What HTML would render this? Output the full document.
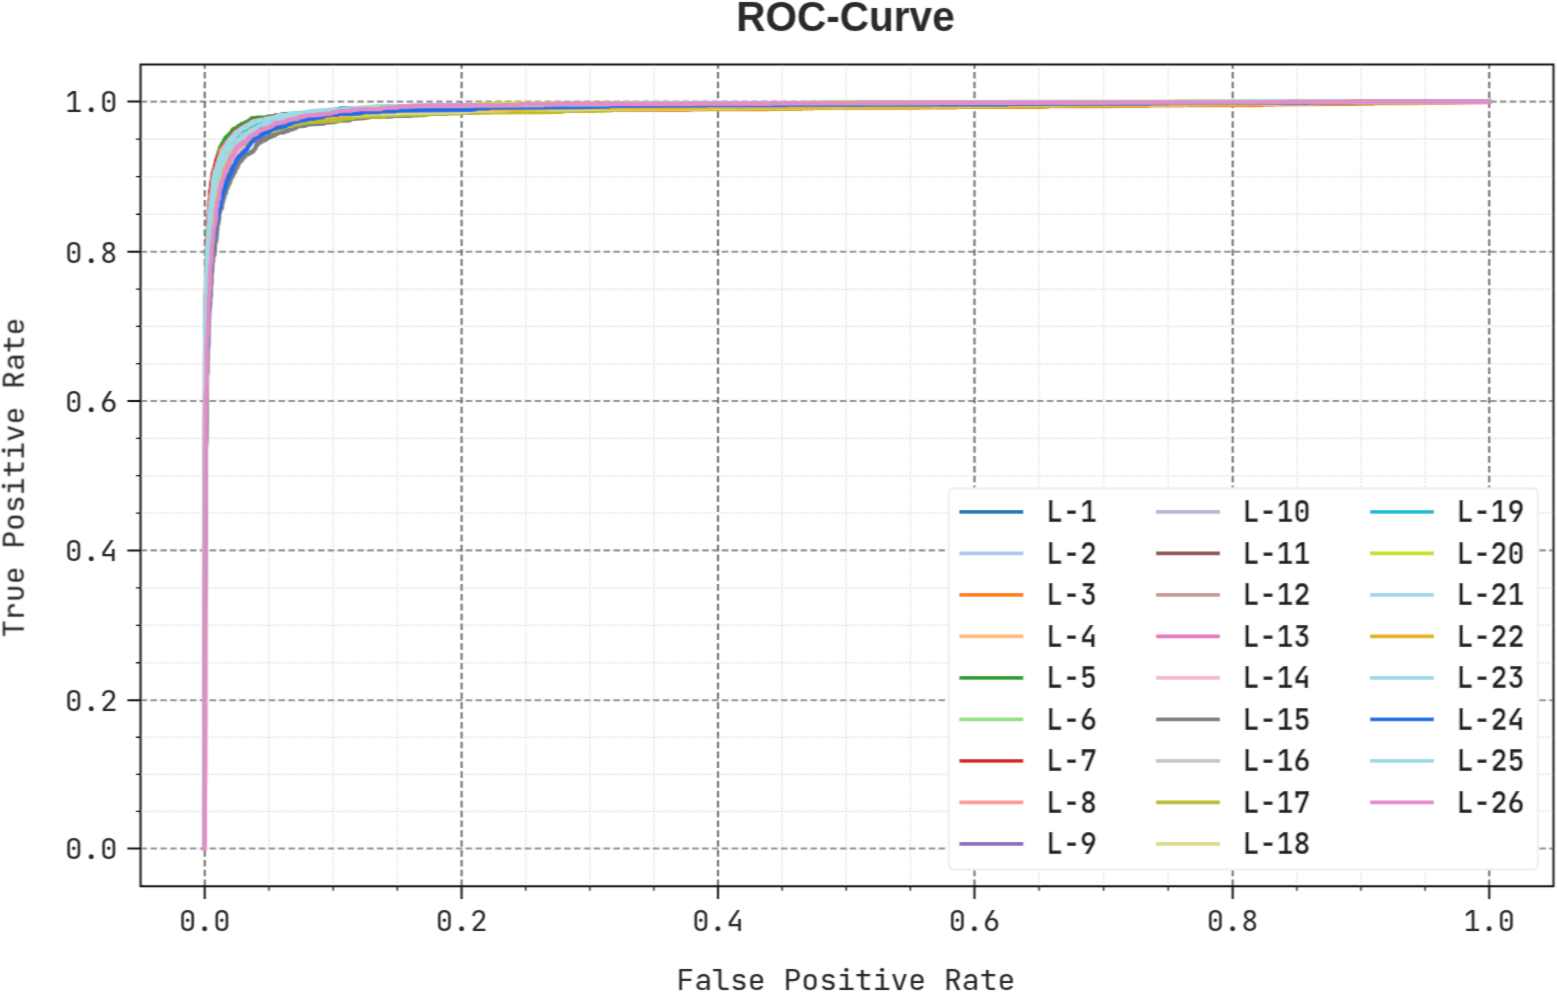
<!DOCTYPE html>
<html><head><meta charset="utf-8"><title>ROC-Curve</title>
<style>html,body{margin:0;padding:0;background:#fff;overflow:hidden}svg{display:block}</style>
</head><body>
<svg width="1557" height="992" viewBox="0 0 1557 992">
<defs><filter id="soft" x="0" y="0" width="1557" height="992" filterUnits="userSpaceOnUse"><feConvolveMatrix order="3" kernelMatrix="0.0250 0.0500 0.0250 0.2000 0.4000 0.2000 0.0250 0.0500 0.0250" divisor="1" edgeMode="none"/></filter><clipPath id="ax"><rect x="140.6" y="64.6" width="1412.9" height="821.6"/></clipPath></defs>
<rect width="1557" height="992" fill="#ffffff"/><g filter="url(#soft)">
<path d="M268.96 886.2V64.6M140.6 811.42H1553.5M333.18 886.2V64.6M140.6 774.35H1553.5M397.39 886.2V64.6M140.6 737.27H1553.5M525.70 886.2V64.6M140.6 662.75H1553.5M589.80 886.2V64.6M140.6 625.30H1553.5M653.90 886.2V64.6M140.6 587.85H1553.5M782.12 886.2V64.6M140.6 513.05H1553.5M846.25 886.2V64.6M140.6 475.70H1553.5M910.38 886.2V64.6M140.6 438.35H1553.5M1039.05 886.2V64.6M140.6 363.70H1553.5M1103.60 886.2V64.6M140.6 326.40H1553.5M1168.15 886.2V64.6M140.6 289.10H1553.5M1296.84 886.2V64.6M140.6 214.25H1553.5M1360.97 886.2V64.6M140.6 176.70H1553.5M1425.11 886.2V64.6M140.6 139.15H1553.5" stroke="#e4e4e4" stroke-width="1.6" stroke-dasharray="1.8 1.4" fill="none"/>
<path d="M140.6 848.50H1553.5M140.6 700.20H1553.5M140.6 550.40H1553.5M140.6 401.00H1553.5M140.6 251.80H1553.5M140.6 101.60H1553.5" stroke="#959595" stroke-width="2.1" stroke-dasharray="6.6 3.25" fill="none"/>
<path d="M204.75 886.2V64.6M461.60 886.2V64.6M718.00 886.2V64.6M974.50 886.2V64.6M1232.70 886.2V64.6M1489.25 886.2V64.6" stroke="#5a5a5a" stroke-width="1.8" stroke-dasharray="6.6 3.25" fill="none"/>
<g clip-path="url(#ax)" stroke-width="4.4" fill="none" stroke-linejoin="round" stroke-linecap="square"><path d="M204.8 848.5 205.1 415.7 205.7 397.0 206.7 311.5 207.3 307.0 208.3 263.7 209.2 254.7 209.2 242.4 209.9 240.9 210.5 222.2 211.2 221.5 211.8 210.6 212.5 210.3 212.5 205.4 213.7 199.1 214.1 193.5 215.0 191.6 215.0 189.7 215.7 189.4 215.7 186.7 216.6 185.3 216.6 183.4 217.6 182.3 218.2 178.5 219.5 176.7 219.8 174.8 220.5 174.8 221.1 171.4 221.8 171.1 222.4 165.8 223.1 165.8 223.7 162.8 225.0 162.8 225.6 162.1 225.6 160.6 226.6 159.1 227.5 158.7 228.2 155.8 229.5 155.4 230.8 152.4 232.0 151.6 233.0 147.5 233.3 146.8 234.0 146.8 234.0 145.3 238.8 143.8 239.4 141.9 243.0 141.2 244.9 138.2 246.8 137.8 246.8 137.1 247.8 136.0 248.4 136.0 248.4 135.2 249.4 135.2 250.3 133.3 252.3 133.3 252.3 132.6 253.6 132.6 254.5 131.5 256.5 131.5 256.5 130.7 258.1 130.4 258.1 129.6 259.7 129.6 261.6 128.5 264.2 128.5 264.5 127.7 270.9 127.0 271.9 125.5 282.8 124.4 283.7 124.0 284.1 123.3 286.6 123.3 287.0 122.5 294.0 122.1 294.0 121.4 299.8 120.6 300.1 119.9 302.4 119.9 302.4 119.5 310.7 119.5 312.3 118.8 322.0 118.8 323.9 117.7 330.0 117.3 330.0 116.9 332.2 116.9 334.2 116.2 364.7 115.8 364.7 115.0 383.9 115.0 383.9 114.7 386.2 114.7 386.2 114.3 394.2 114.3 394.5 113.6 420.5 112.8 421.5 112.1 426.0 112.1 426.0 111.7 438.2 111.7 438.2 111.3 441.4 111.3 441.4 110.9 449.4 110.9 449.4 110.6 465.5 110.2 465.5 109.8 480.0 109.8 480.0 109.4 546.1 109.4 546.1 109.1 575.0 109.1 575.0 108.7 582.7 108.7 582.7 108.3 632.5 108.3 632.5 107.9 641.8 107.9 641.8 107.6 683.5 107.6 683.5 107.2 865.9 106.5 865.9 106.1 874.0 106.1 874.0 105.7 969.3 105.7 969.3 105.3 981.6 105.3 981.6 105.0 1076.6 105.0 1076.6 104.6 1085.9 104.6 1085.9 104.2 1156.2 104.2 1156.2 103.8 1206.3 103.8 1206.3 103.5 1234.0 103.5 1234.0 103.1 1374.9 102.7 1374.9 102.3 1409.9 102.3 1409.9 102.0 1489.2 101.6" stroke="#1f77b4"/>
<path d="M204.8 848.5 204.8 480.7 205.4 449.7 205.7 356.3 207.6 270.0 208.3 267.8 208.3 257.3 209.2 247.2 209.2 237.2 210.2 227.1 210.9 210.6 211.2 207.7 211.8 207.3 211.8 200.6 212.5 199.1 212.5 193.5 213.1 190.9 213.4 184.1 214.1 184.1 214.7 180.4 215.3 180.4 216.3 171.4 217.0 171.1 217.6 167.0 218.6 167.0 219.2 162.5 219.8 162.5 219.8 161.0 220.8 161.0 221.1 158.4 221.8 158.4 221.8 156.9 223.4 153.1 223.4 150.5 224.0 150.1 224.3 148.7 226.3 147.5 226.6 145.3 227.2 145.3 227.5 143.8 228.5 143.4 228.5 142.3 229.2 142.3 229.5 140.4 230.1 140.4 230.4 139.3 231.1 139.3 231.1 138.2 232.7 138.2 233.0 136.3 234.3 136.3 235.6 135.6 235.6 134.1 236.5 133.7 236.9 132.6 239.1 131.8 239.4 131.1 240.7 131.1 241.0 130.4 242.6 130.4 246.5 128.9 246.8 128.1 249.4 127.0 250.0 125.9 251.0 125.5 254.5 125.1 254.5 124.4 255.8 124.4 255.8 124.0 258.4 124.0 258.7 123.3 260.0 123.3 260.3 121.4 263.2 121.4 265.4 119.5 267.4 119.5 269.6 118.0 271.9 118.0 272.2 116.5 274.4 116.2 275.1 115.4 305.9 115.4 305.9 115.0 311.0 115.0 312.3 114.3 318.4 113.9 318.4 113.6 320.4 113.6 321.0 112.8 327.7 112.8 328.1 112.1 330.0 112.1 330.0 111.7 378.5 111.3 378.5 110.9 385.5 110.9 385.5 110.6 407.1 110.6 407.1 110.2 446.9 110.2 447.2 109.4 462.6 109.4 462.6 109.1 536.8 109.1 536.8 108.7 616.4 108.3 616.4 107.9 680.7 107.9 680.7 107.6 703.5 107.6 703.5 107.2 737.5 107.2 737.5 106.8 756.4 106.8 756.4 106.5 803.6 106.5 803.6 106.1 838.3 106.1 838.3 105.7 1029.1 105.0 1029.1 104.6 1044.8 104.6 1044.8 104.2 1140.2 104.2 1140.2 103.8 1191.9 103.8 1191.9 103.5 1257.7 103.5 1257.7 103.1 1273.5 103.1 1273.5 102.7 1372.0 102.7 1372.0 102.3 1409.0 102.3 1409.0 102.0 1489.2 101.6" stroke="#aec7e8"/>
<path d="M204.8 848.5 204.8 543.4 205.7 344.0 206.4 341.4 206.4 306.3 207.0 297.3 207.0 285.7 208.3 253.2 209.2 246.1 209.2 235.3 209.9 233.4 210.2 221.5 211.2 217.4 212.5 203.2 213.4 200.9 213.4 197.2 215.0 189.7 217.0 184.5 217.3 181.5 217.9 181.1 217.9 177.4 218.6 177.4 218.6 176.3 219.5 175.5 219.8 173.3 221.4 170.7 221.8 167.7 223.1 164.0 224.0 163.6 224.0 162.5 225.0 162.1 225.3 158.7 225.9 158.4 226.3 156.5 226.9 156.1 227.2 154.6 228.5 153.9 228.5 153.1 229.2 153.1 229.5 150.9 230.4 150.1 230.4 149.4 231.4 149.0 232.0 146.0 233.0 145.3 233.0 144.5 234.0 144.2 234.0 143.4 234.9 143.4 235.3 142.3 238.1 141.6 239.1 139.7 240.1 139.7 240.4 138.6 241.7 138.6 241.7 137.5 242.6 137.5 243.3 136.3 244.6 136.3 244.9 135.6 246.8 135.6 246.8 134.8 249.1 133.7 249.1 133.0 250.7 133.0 252.6 131.5 255.5 130.4 257.1 130.4 258.1 128.9 260.0 128.9 260.0 128.1 260.9 127.7 260.9 126.6 262.2 126.6 262.2 125.5 266.1 125.5 268.3 124.4 278.0 124.0 280.5 122.9 282.8 122.9 285.0 121.4 288.9 121.4 291.1 120.3 293.7 120.3 294.3 119.5 300.1 119.5 300.1 119.2 303.3 119.2 303.3 118.8 311.4 118.8 311.4 118.4 327.7 118.0 327.7 117.7 335.4 117.3 336.1 116.5 340.6 116.5 340.6 116.2 350.2 116.2 350.5 115.4 362.7 115.4 362.7 115.0 365.0 115.0 365.6 114.3 381.4 114.3 381.4 113.9 388.1 113.9 388.1 113.6 412.8 113.6 412.8 113.2 417.3 113.2 417.3 112.8 438.2 112.8 438.2 112.4 480.0 112.4 480.6 111.7 532.9 111.7 532.9 111.3 548.0 111.3 548.7 110.6 595.9 110.6 596.5 109.8 689.3 109.8 689.3 109.4 692.2 109.4 692.2 109.1 768.6 109.1 768.6 108.7 801.4 108.7 801.4 108.3 813.3 108.3 813.3 107.9 918.9 107.6 918.9 107.2 956.2 107.2 956.2 106.8 1041.6 106.8 1041.6 106.5 1048.0 106.5 1048.0 106.1 1112.6 106.1 1112.6 105.7 1149.5 105.7 1149.5 105.3 1183.9 105.3 1183.9 105.0 1262.5 105.0 1262.5 104.6 1274.4 104.6 1274.4 104.2 1358.2 103.8 1358.2 103.5 1373.3 103.5 1373.3 103.1 1418.3 103.1 1418.3 102.7 1488.9 102.0 1489.2 101.6" stroke="#ff7f0e"/>
<path d="M204.8 848.5 205.1 402.2 205.4 362.3 206.4 333.1 206.4 304.4 207.0 299.5 207.0 283.1 208.3 267.0 208.6 254.0 209.6 249.9 209.9 238.7 211.2 224.5 212.5 219.2 213.4 209.2 215.0 201.7 215.7 192.3 217.0 189.0 217.3 183.4 218.9 181.1 219.2 178.5 219.8 178.5 220.5 172.6 221.4 172.6 222.4 169.2 224.0 167.0 224.0 165.5 224.7 165.5 225.3 160.2 226.9 159.5 227.9 155.8 228.8 155.8 229.2 155.0 229.5 152.0 231.4 151.3 232.0 147.5 233.3 147.2 234.0 144.5 234.6 144.5 234.6 143.4 235.6 143.1 235.6 141.9 236.2 141.9 236.2 141.2 237.8 141.2 237.8 140.4 239.8 139.7 240.1 138.6 241.7 138.2 242.6 136.0 243.3 136.0 243.9 134.8 244.9 134.8 244.9 133.3 246.8 133.0 246.8 131.8 248.1 131.5 248.7 129.6 251.0 128.5 251.6 127.4 255.5 127.4 256.1 127.0 256.1 126.2 257.4 126.2 257.4 125.1 261.3 124.8 261.9 124.4 261.9 123.6 268.0 123.3 269.0 122.1 270.3 122.1 272.8 120.6 275.1 120.6 275.7 119.9 278.6 119.9 280.2 119.2 287.6 119.2 288.2 118.4 289.8 118.4 290.8 117.7 308.8 117.3 310.1 116.5 325.5 116.2 325.5 115.8 349.9 115.4 350.9 114.7 373.7 114.3 374.6 113.6 403.8 112.8 404.8 112.1 407.7 112.1 407.7 111.7 423.8 111.7 423.8 111.3 426.3 111.3 426.3 110.9 442.4 110.9 442.4 110.6 456.2 110.6 456.2 110.2 487.0 110.2 487.0 109.8 498.3 109.8 498.3 109.4 551.2 109.1 551.2 108.7 553.5 108.7 553.5 108.3 700.6 107.6 700.6 107.2 723.0 107.2 723.0 106.8 860.2 106.5 860.2 106.1 893.9 106.1 893.9 105.7 982.8 105.3 982.8 105.0 1117.7 104.6 1117.7 104.2 1150.5 104.2 1150.5 103.8 1208.3 103.8 1208.3 103.5 1287.3 103.1 1287.3 102.7 1489.2 101.6" stroke="#ffbb78"/>
<path d="M204.8 848.5 205.1 376.8 205.7 298.8 206.4 289.4 207.3 234.2 208.3 225.6 208.6 215.5 209.2 213.6 209.2 208.4 209.9 208.0 210.2 206.2 210.2 200.6 211.2 196.5 212.5 179.7 214.1 172.9 214.1 170.7 214.7 170.7 214.7 169.9 215.3 169.6 216.0 162.8 217.0 158.0 217.6 157.2 217.6 155.4 218.6 154.3 218.9 151.6 219.5 151.3 219.8 149.0 220.5 148.3 220.5 146.8 221.8 145.3 222.1 143.8 223.1 143.8 224.0 140.4 225.6 139.3 225.6 137.8 226.3 137.8 226.3 137.1 227.2 137.1 227.5 136.0 229.2 135.6 229.5 134.1 231.4 132.6 232.0 130.7 233.3 130.4 233.3 129.2 237.2 127.7 237.8 126.6 238.8 126.6 238.8 125.9 240.7 125.5 241.7 124.0 245.2 123.6 245.2 122.5 247.1 122.5 247.5 121.8 248.7 121.8 248.7 120.6 250.3 120.6 251.0 119.9 251.0 118.8 251.6 118.4 257.1 118.0 257.1 117.7 265.1 117.7 267.0 116.9 271.9 116.5 271.9 116.2 275.7 116.2 276.0 115.4 280.5 115.0 282.1 114.3 311.4 113.6 311.4 113.2 314.6 113.2 315.5 112.1 317.1 112.1 318.1 111.3 336.4 110.6 336.4 110.2 337.7 110.2 337.7 109.4 338.7 109.1 343.2 109.1 343.2 108.7 373.0 108.3 373.0 107.9 457.8 107.6 457.8 107.2 481.2 107.2 481.2 106.8 490.2 106.8 490.2 106.5 587.9 106.1 587.9 105.7 618.4 105.7 618.4 105.3 742.0 105.3 742.0 105.0 803.6 105.0 803.6 104.6 884.3 104.6 884.3 104.2 1006.6 104.2 1006.6 103.8 1044.8 103.8 1044.8 103.5 1163.6 103.5 1163.6 103.1 1217.9 103.1 1217.9 102.7 1489.2 101.6" stroke="#2ca02c"/>
<path d="M204.8 848.5 204.8 519.5 205.4 347.0 206.0 339.1 207.0 272.6 209.2 233.8 209.6 230.8 210.2 229.7 210.5 217.4 211.2 216.2 212.5 202.1 213.4 198.7 213.4 196.1 214.1 195.3 214.1 193.1 215.0 191.6 215.7 184.1 216.0 182.6 216.6 182.3 217.3 177.0 217.6 176.3 218.2 176.3 218.6 173.7 219.5 173.3 219.5 171.8 220.2 171.4 220.5 169.9 221.4 169.6 221.8 167.0 222.7 166.6 223.4 165.1 223.4 163.2 224.0 162.8 224.3 160.2 225.3 159.1 225.9 159.1 226.3 157.6 227.5 156.5 227.5 155.4 227.9 154.6 228.5 154.6 229.5 151.3 231.4 150.5 231.4 149.4 232.4 149.0 232.4 148.3 234.3 147.5 234.9 146.0 235.9 146.0 236.2 144.9 237.2 144.9 237.8 143.4 239.8 143.1 240.1 141.6 241.7 141.6 242.0 140.4 243.6 139.7 245.5 139.7 245.9 138.9 246.8 138.6 247.1 137.1 248.1 137.1 248.1 136.3 250.3 135.2 250.7 134.5 251.6 134.5 251.6 133.7 252.3 133.3 254.2 133.0 254.5 131.8 256.1 131.5 256.8 130.4 258.4 130.0 258.4 128.9 264.8 128.5 264.8 127.7 265.4 127.4 268.7 127.0 269.3 125.5 271.2 125.1 271.2 124.0 275.7 123.3 277.6 121.8 282.8 121.8 282.8 121.0 283.7 120.6 293.4 120.3 294.7 119.2 299.2 119.2 299.2 118.8 303.3 118.4 303.3 118.0 311.7 118.0 314.3 116.9 316.5 116.9 317.1 115.8 338.7 115.4 338.7 115.0 341.9 115.0 342.5 114.3 343.8 114.3 344.8 113.6 351.8 113.6 351.8 113.2 356.3 113.2 357.0 112.4 364.7 112.1 365.3 111.3 367.2 111.3 367.2 110.6 382.0 110.2 382.0 109.8 445.3 109.4 445.3 109.1 474.5 108.3 474.5 107.9 507.2 107.9 507.2 107.6 530.4 107.6 530.4 107.2 608.7 107.2 608.7 106.8 716.9 106.5 716.9 106.1 742.6 106.1 742.6 105.7 909.0 105.3 909.0 105.0 973.5 105.0 973.5 104.6 1003.1 104.6 1003.1 104.2 1055.4 104.2 1055.4 103.8 1106.1 103.8 1106.1 103.5 1218.2 103.5 1218.2 103.1 1285.7 103.1 1285.7 102.7 1300.4 102.7 1300.4 102.3 1489.2 101.6" stroke="#98df8a"/>
<path d="M204.8 848.5 205.1 354.8 206.4 265.9 207.0 263.7 207.3 236.8 208.0 235.7 209.2 204.7 210.2 197.2 210.2 190.9 210.9 189.7 211.5 181.5 212.1 181.1 212.8 173.3 213.4 172.9 213.7 169.9 214.4 169.6 214.4 168.4 215.0 167.7 215.0 165.8 215.7 165.8 216.3 160.6 216.6 159.9 217.3 159.9 217.3 158.7 218.6 155.4 219.2 155.0 219.5 153.1 220.5 151.6 221.4 151.6 222.7 147.2 223.7 146.8 223.7 146.0 225.0 145.7 225.6 144.2 226.3 144.2 226.3 143.1 226.9 143.1 226.9 142.3 227.9 141.9 228.2 140.1 229.2 140.1 230.4 138.9 230.8 136.7 232.0 136.0 234.0 131.8 236.2 131.5 236.5 130.7 237.2 130.7 237.2 129.6 240.1 128.9 240.1 128.1 241.0 127.4 242.6 127.4 243.3 125.9 246.8 125.1 246.8 124.4 247.5 123.6 248.4 123.6 248.7 122.5 250.3 122.5 250.7 121.8 252.0 121.8 254.5 119.9 265.1 119.2 265.1 118.8 267.4 118.8 267.4 118.4 269.6 118.4 270.3 118.0 270.3 117.3 274.8 117.3 274.8 116.5 276.0 116.5 276.0 115.4 283.4 115.4 283.4 115.0 286.3 115.0 287.0 114.3 302.1 113.6 302.1 113.2 307.2 112.8 308.5 112.1 310.7 112.1 310.7 111.7 344.1 110.9 345.1 110.2 374.9 110.2 374.9 109.8 383.6 109.4 383.6 109.1 389.4 109.1 389.4 108.7 398.4 108.7 400.3 107.9 403.8 107.9 404.5 107.2 477.4 107.2 477.4 106.8 482.8 106.8 482.8 106.5 574.0 106.5 574.0 106.1 632.8 106.1 632.8 105.7 806.9 105.3 806.9 105.0 824.5 105.0 824.5 104.6 942.1 104.6 942.1 104.2 964.9 104.2 964.9 103.8 1088.5 103.8 1088.5 103.5 1196.4 103.1 1196.4 102.7 1337.4 102.7 1337.4 102.3 1408.3 102.3 1408.3 102.0 1426.0 102.0 1426.0 101.6 1489.2 101.6" stroke="#d62728"/>
<path d="M204.8 848.5 205.1 352.6 206.4 271.9 207.0 265.2 207.0 252.1 207.6 247.2 208.0 231.9 208.6 231.2 209.6 209.9 210.5 202.4 211.2 202.4 211.5 193.5 212.5 192.0 213.7 180.0 214.4 177.4 215.0 177.0 215.3 172.6 215.7 171.8 216.3 171.8 216.3 169.9 217.3 167.3 217.3 164.3 218.2 163.2 218.6 159.9 218.9 159.1 219.5 159.1 220.2 154.3 220.8 154.3 221.1 150.5 222.1 150.1 222.1 149.4 223.1 148.7 223.1 147.5 224.0 147.5 225.0 145.7 225.6 145.7 226.3 143.4 228.2 141.2 228.8 141.2 229.5 140.1 230.1 140.1 231.1 138.6 232.0 138.2 232.4 137.1 233.3 136.7 234.3 134.5 238.5 133.7 238.8 132.6 240.4 132.2 240.4 131.5 242.3 131.1 242.3 129.2 243.9 128.9 244.2 128.1 244.9 128.1 244.9 127.4 249.4 127.0 249.4 126.2 251.0 125.5 256.1 125.1 256.5 124.0 258.1 124.0 258.1 123.3 265.8 123.3 265.8 122.5 266.7 121.8 270.3 121.8 270.3 121.4 273.1 121.0 273.8 119.9 274.8 119.5 274.8 118.8 277.0 118.8 278.6 118.0 283.7 118.0 284.7 117.7 285.0 116.9 287.9 116.5 288.2 115.8 297.9 115.8 297.9 115.4 300.1 115.4 300.8 114.7 304.0 114.7 304.6 113.9 312.0 113.6 312.3 112.8 316.2 112.4 316.2 112.1 339.3 111.7 339.3 111.3 345.4 111.3 345.4 110.9 346.7 110.9 347.0 110.2 383.6 109.8 383.6 109.4 385.9 109.4 385.9 109.1 391.6 109.1 391.6 108.7 489.9 108.3 489.9 107.9 498.9 107.9 498.9 107.6 542.9 107.6 542.9 107.2 548.0 107.2 548.0 106.8 588.8 106.8 588.8 106.5 794.0 106.1 794.0 105.7 799.2 105.7 799.2 105.3 802.7 105.3 802.7 105.0 957.1 104.6 957.1 104.2 982.5 104.2 982.5 103.8 1177.1 103.5 1177.1 103.1 1187.7 103.1 1187.7 102.7 1300.7 102.7 1300.7 102.3 1396.8 102.3 1396.8 102.0 1489.2 101.6" stroke="#ff9896"/>
<path d="M204.8 848.5 204.8 571.8 205.4 414.2 206.7 360.0 206.7 338.4 208.6 278.2 209.6 264.4 210.2 261.8 210.5 250.2 211.2 248.7 211.5 243.1 212.1 242.4 212.1 237.2 212.8 236.8 213.1 234.9 213.1 230.4 214.4 225.6 214.4 222.2 215.0 221.5 215.3 214.8 216.0 213.6 216.0 211.0 217.6 206.5 217.6 203.6 218.2 202.8 218.2 201.7 218.9 201.3 218.9 199.4 219.5 199.4 219.8 198.7 220.2 195.7 220.8 195.0 222.7 184.1 224.0 182.3 224.3 179.3 225.0 179.3 225.3 178.5 226.3 172.6 226.6 171.8 227.5 171.8 227.9 169.6 228.5 169.6 228.5 168.8 229.8 168.1 230.8 164.0 231.4 164.0 231.4 162.5 232.0 162.5 232.4 160.6 233.3 159.9 234.6 159.9 234.6 159.1 235.3 159.1 236.5 157.6 236.9 156.1 237.5 155.8 237.5 153.9 239.1 152.0 239.1 151.3 240.1 150.9 240.1 150.1 240.7 150.1 240.7 149.4 241.4 149.4 241.7 148.3 243.0 148.3 243.3 146.8 246.2 144.9 246.5 143.8 248.4 143.8 248.4 143.1 250.0 142.7 251.6 141.2 256.5 140.8 256.5 140.1 259.7 139.7 259.7 138.9 262.9 138.6 263.5 137.1 269.0 136.7 269.6 135.2 270.3 135.2 270.9 133.7 271.5 133.7 271.9 132.2 274.8 131.8 276.0 130.7 277.0 130.7 277.3 130.0 280.5 130.0 280.9 129.2 281.8 128.9 284.4 128.5 284.4 127.7 287.9 127.4 288.6 126.2 290.5 125.1 292.7 124.8 293.1 124.0 295.0 124.0 295.0 123.3 308.8 122.9 309.4 122.1 311.0 122.1 311.0 121.8 318.1 121.4 318.1 121.0 321.3 121.0 321.3 120.6 330.6 120.6 331.9 119.9 333.5 119.9 333.5 119.2 335.4 119.2 336.1 118.4 348.0 118.0 348.0 117.3 369.8 116.9 371.4 116.2 381.0 116.2 381.0 115.8 383.6 115.8 383.6 115.4 393.6 115.4 393.6 115.0 397.1 115.0 397.1 114.7 407.1 114.7 407.1 114.3 411.6 114.3 411.6 113.9 417.0 113.9 417.0 113.6 425.7 113.6 425.7 113.2 427.9 113.2 427.9 112.8 437.6 112.8 438.5 112.1 471.0 111.7 471.0 111.3 475.5 110.9 475.5 110.6 483.2 110.6 483.2 110.2 556.4 109.8 556.4 109.4 615.5 108.7 615.5 108.3 694.5 107.9 694.5 107.6 708.3 107.6 708.3 107.2 713.4 106.8 713.4 106.5 825.2 106.1 825.2 105.7 840.6 105.7 840.6 105.3 875.6 105.3 875.6 105.0 939.8 105.0 939.8 104.6 968.4 104.6 968.4 104.2 1016.6 104.2 1016.6 103.8 1096.8 103.8 1096.8 103.5 1183.5 103.1 1183.5 102.7 1276.7 102.7 1276.7 102.3 1315.5 102.3 1315.5 102.0 1489.2 101.6" stroke="#9467bd"/>
<path d="M204.8 848.5 205.1 413.1 205.7 391.4 205.7 341.4 206.7 327.2 206.7 301.0 207.6 282.0 207.6 267.4 208.6 258.4 208.9 243.9 209.6 242.8 210.2 230.1 212.1 218.9 212.8 206.5 213.4 206.5 214.1 199.4 217.6 186.7 217.6 184.1 218.6 181.5 218.6 178.2 219.5 176.7 219.5 174.8 220.2 174.8 220.2 173.3 221.1 171.4 221.4 168.1 222.7 166.6 223.7 162.8 224.3 162.8 224.3 160.6 226.3 158.0 226.3 156.9 227.2 155.8 227.9 155.8 227.9 153.1 228.8 152.8 229.2 151.6 230.4 151.3 231.1 147.9 232.0 147.5 232.0 146.0 233.3 144.9 233.3 144.2 234.0 144.2 234.0 143.1 234.9 143.1 236.5 141.2 237.8 141.2 238.5 138.9 239.4 138.9 239.4 137.8 240.7 137.5 241.0 134.8 244.6 134.8 246.2 133.7 246.5 132.6 247.8 132.6 248.1 131.8 249.1 131.8 249.7 131.5 249.7 130.7 251.3 130.7 252.0 130.4 252.0 129.6 256.5 129.6 256.8 128.5 260.3 128.1 261.9 127.4 261.9 126.6 267.4 125.5 268.3 124.4 269.6 124.4 269.6 124.0 272.8 124.0 274.1 123.3 278.3 123.3 278.3 122.9 281.5 122.5 281.5 122.1 287.3 122.1 287.3 121.8 289.5 121.8 289.5 121.0 292.4 120.6 292.4 120.3 300.8 119.9 301.1 119.2 325.8 118.8 326.1 118.0 327.4 118.0 328.1 117.3 332.2 117.3 332.6 116.5 335.4 116.2 335.4 115.8 342.2 115.4 342.8 114.7 346.4 114.7 346.4 114.3 353.1 114.3 353.1 113.9 355.7 113.9 356.6 113.2 391.0 113.2 391.0 112.8 395.2 112.8 395.2 112.4 416.1 112.4 416.1 112.1 429.2 111.7 429.2 111.3 441.7 111.3 441.7 110.9 445.9 110.9 447.2 110.2 453.6 110.2 453.6 109.8 496.0 109.8 496.0 109.4 523.3 109.1 523.3 108.7 532.3 108.7 532.3 108.3 550.3 108.3 550.3 107.9 684.5 107.6 684.5 107.2 698.0 107.2 698.0 106.8 838.3 106.5 838.3 106.1 856.0 106.1 856.0 105.7 939.2 105.7 939.2 105.3 987.3 105.3 987.3 105.0 1198.0 103.8 1198.0 103.5 1225.0 103.5 1225.0 103.1 1301.1 103.1 1301.1 102.7 1338.6 102.7 1338.6 102.3 1411.2 102.3 1411.2 102.0 1489.2 101.6" stroke="#c5b0d5"/>
<path d="M204.8 848.5 204.8 619.9 205.4 456.8 206.0 444.1 207.0 362.6 207.6 358.5 207.6 336.1 208.6 323.4 209.2 294.7 209.9 291.7 209.9 285.0 212.5 250.6 213.4 247.2 213.4 243.5 214.1 242.0 214.4 236.4 215.3 232.7 215.3 229.3 216.0 227.8 216.3 222.2 217.0 220.4 217.0 216.6 217.6 215.9 218.2 207.3 219.2 205.0 219.5 200.6 220.5 199.1 221.4 193.5 222.1 193.5 222.1 192.0 222.7 191.2 223.1 187.1 223.7 186.7 224.0 184.5 224.7 184.5 224.7 182.3 225.3 181.9 225.3 179.7 225.9 178.9 225.9 176.7 226.9 175.5 226.9 174.4 227.5 174.4 228.2 171.1 228.8 170.7 229.2 169.2 229.8 169.2 229.8 167.7 231.1 167.3 231.1 165.5 232.0 165.5 232.7 163.2 233.3 162.8 233.3 161.7 234.0 161.7 234.6 159.9 235.9 158.7 236.5 156.5 237.5 156.1 237.5 154.6 238.8 151.6 240.7 150.5 240.7 149.4 241.7 149.4 242.6 146.0 243.6 146.0 245.2 142.3 247.1 141.6 247.1 140.4 248.4 140.1 249.1 138.6 249.7 138.6 249.7 137.8 252.0 137.5 252.0 136.7 254.2 136.3 255.2 135.6 256.8 135.6 256.8 134.5 257.7 134.5 258.1 133.7 259.0 133.3 261.6 133.0 261.9 131.8 265.4 131.1 265.4 130.4 271.9 130.0 273.5 128.1 274.4 128.1 274.8 127.0 277.6 126.6 278.0 125.9 281.8 125.5 281.8 124.4 284.1 124.4 286.0 123.3 288.9 123.3 288.9 122.5 289.8 122.5 292.1 121.0 296.9 120.3 297.9 119.5 299.5 119.5 300.1 118.8 303.3 118.8 303.3 118.4 306.2 118.4 306.2 118.0 314.3 118.0 315.2 117.3 320.4 117.3 322.9 115.8 323.2 115.0 325.2 115.0 326.1 114.3 331.9 114.3 331.9 113.9 334.8 113.9 335.1 113.2 344.8 112.8 347.7 111.7 349.9 111.7 350.9 110.9 361.8 109.8 362.7 109.4 363.1 108.7 365.6 108.7 365.6 108.3 389.4 108.3 389.4 107.9 396.8 107.9 396.8 107.6 404.8 107.6 404.8 107.2 425.0 106.8 426.3 106.1 436.3 106.1 436.3 105.7 592.7 105.7 592.7 105.3 706.7 105.0 706.7 104.6 715.7 104.6 715.7 104.2 764.8 104.2 764.8 103.8 1035.8 103.5 1035.8 103.1 1073.4 103.1 1073.4 102.7 1216.6 102.7 1216.6 102.3 1489.2 101.6" stroke="#8c564b"/>
<path d="M204.8 848.5 204.8 588.6 205.4 419.0 206.0 397.7 206.7 322.3 207.3 318.9 207.3 297.7 208.6 277.9 208.6 267.4 209.2 266.3 209.6 261.4 209.6 252.1 210.5 245.4 210.9 236.4 211.5 236.0 211.8 233.1 211.8 227.5 212.5 226.3 212.8 218.9 213.4 217.4 213.4 214.8 214.4 212.9 215.3 202.1 215.7 200.6 216.3 200.6 217.0 195.3 217.6 195.0 219.2 190.9 219.5 187.1 220.5 187.1 220.8 183.0 221.4 183.0 223.1 175.9 223.7 175.5 223.7 173.7 224.3 172.2 225.0 172.2 225.6 168.8 227.5 166.6 227.9 164.0 228.5 164.0 228.5 162.5 229.2 162.5 229.8 160.6 230.8 160.2 230.8 159.5 231.4 159.5 231.4 158.7 232.7 158.4 233.3 156.5 234.3 156.5 234.3 155.4 235.6 155.4 235.6 154.6 236.2 154.6 236.2 153.1 237.8 152.8 238.5 151.3 239.4 151.3 239.8 150.1 240.4 150.1 240.4 149.0 241.0 149.0 241.4 147.5 243.0 147.2 243.6 146.0 245.5 145.3 245.5 144.5 247.1 143.8 247.1 143.1 248.4 143.1 249.4 141.6 250.3 141.2 250.3 139.7 252.0 139.7 252.3 138.9 253.6 138.9 253.9 137.8 256.5 136.7 257.4 134.8 260.3 133.7 262.9 133.7 263.8 132.6 265.1 132.6 265.1 131.8 266.1 131.8 266.7 130.7 267.4 130.7 267.7 129.6 271.5 128.1 271.5 127.0 274.4 126.6 274.4 126.2 279.3 126.2 280.9 125.5 281.2 124.4 282.8 124.0 283.1 123.3 291.1 122.9 291.5 121.8 299.5 121.4 299.5 120.6 300.4 120.3 303.0 120.3 303.3 119.5 306.2 119.5 306.2 119.2 310.7 119.2 310.7 118.8 313.3 118.8 313.3 118.4 320.0 118.4 320.7 117.7 336.7 117.3 338.3 116.5 351.8 116.5 351.8 115.8 358.9 115.8 358.9 115.4 362.7 115.4 364.3 114.7 434.4 113.2 434.4 112.8 437.6 112.8 439.2 112.1 462.6 112.1 462.6 111.7 469.0 111.7 469.0 111.3 521.7 110.6 521.7 110.2 528.8 110.2 528.8 109.8 600.4 109.4 600.4 109.1 610.0 109.1 610.0 108.7 643.4 108.7 643.4 108.3 664.6 108.3 664.6 107.9 732.7 107.9 732.7 107.6 781.8 107.6 781.8 107.2 810.1 107.2 810.1 106.8 935.0 106.5 935.0 106.1 979.0 106.1 979.0 105.7 986.0 105.7 986.0 105.3 1252.3 103.8 1252.3 103.5 1317.4 103.1 1317.4 102.7 1383.3 102.7 1383.3 102.3 1410.6 102.3 1410.6 102.0 1489.2 101.6" stroke="#c49c94"/>
<path d="M204.8 848.5 204.8 470.9 205.4 447.8 205.4 364.9 206.0 362.3 206.0 333.1 207.3 282.3 208.0 263.3 208.3 258.8 208.9 258.8 209.2 245.0 209.6 240.9 210.2 240.1 210.5 237.5 210.5 231.6 212.1 217.7 212.1 212.5 213.1 209.9 214.1 198.7 214.7 198.7 215.0 194.6 215.7 193.8 216.3 190.9 216.6 186.0 217.9 182.6 218.2 177.4 219.2 177.0 220.2 172.6 220.8 172.2 220.8 171.1 221.4 170.3 222.7 162.5 223.4 162.5 223.7 161.4 223.7 159.1 225.0 158.7 225.3 156.5 225.9 156.5 225.9 155.8 226.6 155.4 227.9 151.3 228.5 151.3 228.5 150.5 229.2 150.5 229.5 149.8 229.5 148.3 232.7 147.2 234.0 143.8 235.3 143.1 235.3 141.6 236.9 141.2 237.2 140.4 241.4 139.3 241.7 138.6 242.3 138.6 242.6 137.1 243.9 137.1 244.6 136.3 244.6 134.5 245.5 134.5 245.5 133.7 248.1 133.3 248.4 132.2 251.6 131.5 252.3 130.0 253.6 129.6 254.8 128.1 255.8 128.1 256.8 127.0 262.2 126.6 263.2 125.5 264.2 125.5 264.2 124.8 270.3 124.8 271.2 124.4 271.5 123.6 282.8 122.5 283.1 121.8 286.0 121.4 286.3 120.6 290.8 120.6 293.4 119.5 298.5 119.5 298.8 118.8 309.8 117.7 309.8 117.3 312.0 117.3 312.6 116.5 314.6 116.5 314.6 116.2 322.6 116.2 322.9 115.4 327.1 115.4 327.1 115.0 329.7 115.0 329.7 114.7 342.8 114.7 342.8 114.3 359.5 113.9 360.5 113.2 391.0 112.8 391.0 112.4 397.4 112.4 397.4 112.1 507.6 110.6 507.6 110.2 523.0 110.2 523.0 109.8 573.1 109.8 573.1 109.4 585.6 109.4 585.6 109.1 628.0 109.1 628.0 108.7 647.9 108.7 647.9 108.3 675.8 108.3 675.8 107.9 687.1 107.9 687.1 107.6 724.3 107.6 724.3 107.2 738.1 107.2 738.1 106.8 843.8 106.5 843.8 106.1 872.7 106.1 872.7 105.7 910.9 105.7 910.9 105.3 1022.7 105.0 1022.7 104.6 1058.0 104.6 1058.0 104.2 1114.2 104.2 1114.2 103.8 1164.3 103.8 1164.3 103.5 1217.3 103.5 1217.3 103.1 1359.2 102.7 1359.2 102.3 1385.2 102.3 1385.2 102.0 1489.2 101.6" stroke="#e377c2"/>
<path d="M204.8 848.5 204.8 519.9 205.4 477.7 205.7 378.0 206.4 332.8 207.3 320.4 208.3 279.7 208.9 278.2 208.9 270.0 209.9 262.9 209.9 253.2 210.5 251.4 210.5 247.6 211.2 244.6 211.8 232.3 212.8 229.3 212.8 224.1 214.1 219.2 215.3 208.0 216.3 205.4 217.3 199.1 218.2 196.8 218.6 192.3 220.5 187.5 221.8 179.3 223.4 177.0 223.7 174.0 224.3 174.0 224.7 172.2 225.9 171.4 225.9 170.3 226.9 169.9 227.5 166.2 228.2 166.2 229.2 163.6 230.4 163.2 230.8 161.7 232.0 161.7 232.4 159.5 233.0 159.5 233.0 157.6 235.3 157.2 235.9 154.6 236.5 154.6 236.9 153.1 237.8 152.8 237.8 151.6 239.1 150.1 239.1 149.0 239.8 148.3 240.7 148.3 241.0 147.2 242.6 146.4 242.6 145.7 243.9 145.7 244.6 143.8 245.5 143.4 245.9 142.3 247.8 141.9 248.1 141.2 248.7 141.2 249.1 140.1 252.3 138.9 252.6 138.2 254.2 137.5 254.2 136.7 255.8 136.7 257.4 135.6 258.4 135.6 258.7 134.5 260.3 134.5 260.6 133.3 262.9 133.3 263.5 132.2 264.8 132.2 265.1 131.1 267.4 131.1 267.4 130.4 268.7 130.4 268.7 130.0 271.9 130.0 271.9 129.6 275.7 128.9 276.4 127.4 280.2 127.4 280.2 126.6 281.2 126.2 285.4 125.9 285.4 125.5 289.2 125.5 289.5 124.8 295.9 124.8 295.9 124.0 300.8 123.6 301.7 122.9 301.7 122.1 303.0 122.1 304.6 120.6 307.8 120.6 308.2 119.9 319.4 119.2 319.4 118.8 321.6 118.8 323.6 118.0 328.4 118.0 329.0 117.3 331.3 117.3 331.6 116.5 349.9 116.5 349.9 116.2 357.6 116.2 357.6 115.8 368.8 115.8 369.2 115.0 400.3 115.0 400.3 114.7 408.3 114.7 408.7 113.9 430.2 113.6 431.5 112.8 435.3 112.8 435.3 112.4 459.4 112.4 460.0 111.7 519.5 111.3 519.5 110.9 527.2 110.6 527.2 110.2 573.7 110.2 573.7 109.8 591.7 109.8 591.7 109.4 615.5 109.4 615.5 109.1 621.6 109.1 621.6 108.7 705.7 108.7 705.7 108.3 750.3 108.3 750.3 107.9 770.9 107.9 770.9 107.6 778.6 107.6 778.6 107.2 812.3 107.2 812.3 106.8 933.7 106.5 933.7 106.1 1051.9 105.3 1051.9 105.0 1162.3 104.6 1162.3 104.2 1180.6 104.2 1180.6 103.8 1289.8 103.5 1289.8 103.1 1313.0 103.1 1313.0 102.7 1489.2 101.6" stroke="#f7b6d2"/>
<path d="M204.8 848.5 205.1 549.7 205.7 451.9 206.4 438.8 207.0 375.3 207.6 372.7 207.6 350.7 208.3 345.8 209.2 312.2 210.2 304.0 210.2 297.7 210.9 295.8 210.9 286.8 211.5 283.1 211.5 274.5 212.1 271.5 212.5 262.2 213.1 261.1 213.1 256.6 214.1 255.5 214.7 252.1 215.0 244.6 216.3 239.8 217.6 224.5 218.2 224.1 219.2 217.7 219.2 213.6 219.8 212.9 220.5 209.5 221.1 209.2 221.1 208.0 221.8 208.0 222.1 203.6 222.7 203.2 223.4 199.1 224.3 197.6 224.3 195.3 225.9 193.1 226.3 189.4 227.5 187.9 227.5 186.7 228.8 184.9 228.8 183.4 229.5 183.4 229.8 181.5 230.4 181.1 230.8 178.2 231.4 178.2 231.7 177.0 232.4 177.0 232.7 175.2 233.3 175.2 233.3 173.3 234.0 173.3 234.3 172.2 234.9 172.2 235.9 168.8 236.5 168.8 236.9 167.3 237.5 167.0 237.5 165.5 238.1 165.5 238.8 162.5 239.8 162.5 239.8 161.4 241.7 160.6 242.3 158.4 243.6 158.0 243.9 156.9 245.2 156.5 245.5 155.0 249.1 153.9 250.3 152.4 252.0 152.4 252.3 151.3 253.2 151.3 253.2 150.5 254.2 150.1 254.2 149.4 255.5 148.3 256.1 145.3 257.1 145.3 257.4 144.2 258.7 143.8 258.7 142.7 260.0 142.7 260.3 141.9 261.3 141.9 261.3 141.2 265.4 140.1 265.4 139.3 267.0 138.9 267.7 137.5 269.0 137.5 269.0 136.7 271.2 136.7 271.2 135.6 274.8 135.6 274.8 134.5 277.6 133.7 278.0 132.6 284.1 132.2 285.4 131.1 287.6 131.1 287.6 130.4 288.9 130.4 290.8 129.2 292.7 129.2 292.7 128.5 295.9 128.1 296.3 127.0 297.9 126.2 305.6 125.5 305.9 124.8 307.5 124.8 307.5 124.4 323.6 123.6 326.1 122.5 334.5 122.1 334.5 121.8 337.7 121.4 339.0 120.6 349.6 120.3 349.9 119.5 351.2 119.5 352.5 118.8 366.9 117.7 366.9 117.3 369.8 117.3 369.8 116.9 389.1 116.5 389.1 116.2 392.6 116.2 392.6 115.8 410.6 115.8 410.6 115.4 417.3 115.4 417.3 115.0 424.4 115.0 425.4 114.3 428.6 114.3 428.6 113.9 447.8 113.6 448.2 112.8 454.3 112.8 454.3 112.4 490.9 112.1 490.9 111.7 502.1 111.7 502.1 111.3 514.0 111.3 514.0 110.9 551.6 110.9 551.6 110.6 560.2 110.6 560.2 110.2 627.4 109.1 627.4 108.7 686.4 108.3 686.4 107.9 730.4 107.6 730.4 107.2 811.7 106.8 811.7 106.5 867.6 106.1 867.6 105.7 886.2 105.7 886.2 105.3 1135.0 103.8 1135.0 103.5 1155.9 103.5 1155.9 103.1 1205.4 103.1 1205.4 102.7 1311.3 102.7 1311.3 102.3 1363.7 102.3 1363.7 102.0 1489.2 101.6" stroke="#7f7f7f"/>
<path d="M204.8 848.5 205.1 442.2 207.0 299.9 210.2 235.3 210.9 233.1 210.9 227.8 211.8 223.7 212.1 215.1 212.8 211.4 213.4 210.6 213.4 206.5 214.1 206.2 214.7 199.4 216.6 193.8 216.6 190.5 217.6 187.9 218.2 187.5 218.2 185.3 219.5 183.4 219.8 179.3 221.4 175.9 222.1 170.7 222.7 170.7 223.1 169.9 223.1 167.0 224.0 166.6 224.0 164.0 225.3 164.0 225.3 162.8 226.3 162.5 226.9 158.7 227.9 158.4 227.9 157.6 228.5 157.6 229.2 155.4 230.4 154.6 230.8 152.4 231.7 151.6 232.4 149.4 233.0 149.4 233.3 148.3 234.3 147.9 234.6 146.4 236.2 146.0 236.2 144.5 237.2 144.5 237.2 143.8 237.8 143.8 238.5 142.3 239.8 141.9 240.1 140.4 240.7 140.4 241.0 139.7 243.0 139.3 244.6 138.2 246.5 138.2 246.8 137.5 248.1 137.1 248.1 136.3 248.7 136.3 249.4 135.2 250.3 135.2 250.7 134.1 252.9 133.3 252.9 131.8 257.1 131.5 258.1 130.0 260.3 128.9 261.6 128.9 262.6 127.0 263.5 127.0 265.1 125.5 270.3 125.1 270.3 124.4 272.8 124.0 273.1 123.3 275.4 123.3 276.0 122.5 280.2 122.5 280.2 122.1 282.8 122.1 282.8 121.8 288.9 121.8 291.1 119.5 299.8 119.2 299.8 118.8 301.4 118.8 301.7 118.0 306.5 118.0 306.5 117.7 310.4 117.7 310.4 117.3 327.4 116.9 327.4 116.5 331.6 116.5 332.2 115.8 333.8 115.8 333.8 115.4 363.1 114.7 363.4 113.9 392.6 113.9 392.6 113.6 399.0 113.6 399.0 113.2 421.5 112.8 423.1 112.1 460.4 112.1 460.4 111.7 463.3 111.7 463.3 111.3 472.9 110.9 472.9 110.6 497.3 110.2 497.3 109.8 504.0 109.8 504.0 109.4 668.1 108.7 668.1 108.3 680.7 108.3 680.7 107.9 715.7 107.9 715.7 107.6 868.2 106.8 868.2 106.5 879.4 106.5 879.4 106.1 1055.7 105.3 1055.7 105.0 1224.6 103.8 1224.6 103.5 1260.3 103.5 1260.3 103.1 1319.7 103.1 1319.7 102.7 1410.6 102.3 1410.6 102.0 1443.0 102.0 1443.0 101.6 1489.2 101.6" stroke="#c7c7c7"/>
<path d="M204.8 848.5 205.1 463.8 205.7 388.8 206.4 375.7 206.7 336.1 207.3 330.5 207.3 311.9 208.3 301.4 208.3 286.8 208.9 282.0 209.6 263.3 210.2 262.9 210.2 254.3 211.5 236.4 212.5 232.3 212.5 226.7 213.1 225.6 214.1 215.9 215.0 212.1 215.3 205.4 216.0 204.7 216.0 202.8 217.0 202.4 217.3 196.8 217.9 196.5 217.9 195.0 218.9 193.5 219.2 189.0 219.8 188.6 221.4 178.9 222.1 178.9 222.1 177.8 223.1 177.0 223.1 175.5 223.7 175.5 223.7 174.0 224.3 174.0 225.0 171.1 226.6 168.8 227.5 165.1 229.2 163.2 229.2 161.4 230.4 158.7 230.4 156.9 232.0 156.1 232.0 155.0 233.0 155.0 233.0 154.3 234.0 153.9 234.9 150.5 236.5 148.7 237.2 148.7 237.5 146.8 238.8 146.8 239.1 145.3 240.4 145.3 241.7 143.8 243.6 143.8 245.2 142.7 246.5 142.7 246.5 141.9 247.1 141.9 247.8 140.8 249.1 140.8 249.4 140.1 251.6 140.1 252.3 139.3 253.2 139.3 253.6 138.6 256.5 136.7 256.5 135.6 258.7 135.6 259.0 134.8 260.6 134.5 261.3 133.7 267.0 133.3 267.4 132.2 271.9 131.5 272.5 130.7 274.8 130.7 277.0 129.6 279.3 129.6 280.2 129.2 280.5 128.1 285.0 127.4 285.4 126.6 286.3 126.2 291.8 125.9 294.3 124.4 298.5 124.4 298.5 123.6 301.1 123.3 301.1 122.9 304.9 122.9 305.3 122.1 325.5 121.4 327.1 120.6 338.7 120.6 341.5 119.5 341.9 118.8 352.8 118.0 353.1 117.3 355.0 117.3 355.0 116.9 385.9 116.2 386.5 115.0 428.3 114.3 429.5 113.6 440.1 113.6 440.1 113.2 460.4 113.2 460.7 112.4 550.6 112.1 550.6 111.7 562.5 111.7 563.8 110.9 567.0 110.9 567.0 110.6 605.5 110.6 605.5 110.2 611.3 110.2 611.3 109.8 646.6 109.4 646.6 109.1 706.0 109.1 706.0 108.7 727.5 108.7 727.5 108.3 801.4 108.3 801.4 107.9 828.7 107.9 828.7 107.6 930.2 106.8 930.2 106.5 1036.8 106.1 1036.8 105.7 1050.3 105.7 1050.3 105.3 1107.1 105.3 1107.1 105.0 1130.9 105.0 1130.9 104.6 1178.7 104.6 1178.7 104.2 1244.6 104.2 1244.6 103.8 1305.6 103.5 1305.6 103.1 1440.8 102.3 1440.8 102.0 1453.0 102.0 1453.0 101.6 1489.2 101.6" stroke="#bcbd22"/>
<path d="M204.8 848.5 205.1 431.4 205.7 398.1 205.7 357.4 206.4 350.3 207.0 304.4 208.0 287.2 208.3 266.3 209.2 257.7 209.2 248.7 210.9 236.8 211.5 223.0 212.1 222.2 212.8 214.4 213.7 211.0 214.4 200.2 215.0 199.8 215.0 193.8 215.3 192.7 216.0 192.7 217.0 186.0 217.6 186.0 217.6 183.8 218.2 183.8 218.2 181.9 218.9 181.9 219.2 180.8 219.8 174.4 221.4 169.9 221.4 166.2 222.7 166.2 223.1 164.0 224.0 164.0 224.7 162.5 225.6 162.1 225.6 160.6 226.3 160.6 226.3 158.7 226.9 158.7 227.2 157.6 228.2 157.2 228.2 156.5 228.8 156.5 229.5 153.9 230.4 152.4 231.1 152.4 231.1 151.3 232.0 150.5 232.0 149.4 233.0 148.3 233.0 146.8 234.0 145.3 235.3 144.9 236.2 141.6 237.5 140.4 239.4 140.1 239.8 138.9 242.0 138.6 243.3 136.0 244.2 136.0 244.9 134.5 246.5 134.5 247.5 133.3 248.4 133.3 249.4 131.5 250.7 131.5 250.7 130.7 253.2 130.4 254.5 129.2 254.5 128.5 256.5 128.5 257.4 127.4 258.1 127.4 258.1 126.6 260.6 126.6 260.6 125.9 262.9 125.5 262.9 124.8 264.8 124.4 265.1 123.6 269.3 122.9 270.3 122.5 270.6 121.8 273.5 121.8 275.4 120.6 279.9 120.6 280.2 119.5 282.1 119.5 284.1 118.8 296.9 118.4 296.9 117.7 298.8 117.7 298.8 117.3 311.4 116.9 311.4 116.5 316.8 116.5 316.8 116.2 326.5 116.2 326.5 115.8 330.6 115.8 330.6 115.4 342.5 115.0 342.5 114.7 360.5 114.7 360.5 114.3 373.0 113.9 373.0 113.6 398.4 113.2 398.4 112.8 447.8 112.4 449.1 111.7 465.8 111.7 467.1 110.9 472.9 110.9 472.9 110.6 505.3 110.2 506.6 109.4 571.8 109.4 571.8 109.1 587.5 109.1 587.5 108.7 705.7 108.3 705.7 107.9 718.9 107.9 718.9 107.6 735.6 107.6 735.6 107.2 814.2 107.2 814.2 106.8 845.4 106.8 845.4 106.5 993.1 105.7 993.1 105.3 1014.9 105.3 1014.9 105.0 1188.0 104.2 1188.0 103.8 1277.9 103.5 1277.9 103.1 1351.8 102.7 1351.8 102.3 1489.2 101.6" stroke="#dbdb8d"/>
<path d="M204.8 848.5 204.8 463.8 205.4 422.8 205.7 323.1 206.4 321.2 206.7 282.0 207.3 276.4 208.3 244.3 208.9 239.4 208.9 230.8 209.9 227.1 209.9 223.3 211.2 215.5 212.5 191.6 213.1 190.5 213.1 187.1 213.7 185.6 214.7 178.2 215.7 177.4 215.7 174.8 216.3 174.8 216.3 172.2 217.3 170.7 217.3 168.1 218.6 164.3 218.6 162.5 220.2 161.7 221.1 158.4 222.1 158.0 223.1 154.3 224.0 153.9 224.3 153.1 224.7 149.8 225.6 149.4 227.5 144.2 228.8 144.2 228.8 142.7 229.8 142.7 230.8 140.4 232.0 140.4 232.4 137.8 234.9 137.5 235.6 136.0 236.5 136.0 236.9 134.1 238.5 133.3 238.8 131.5 240.4 131.5 241.4 130.4 243.3 130.0 243.3 129.2 244.9 128.5 246.8 128.5 247.8 127.0 248.4 127.0 248.7 125.9 251.0 125.5 251.0 124.8 254.2 124.4 255.2 123.3 260.3 122.9 260.9 121.8 261.9 121.4 264.2 121.4 264.8 120.6 268.3 120.6 269.3 119.5 271.9 119.5 274.4 118.4 276.4 118.4 279.6 116.9 282.5 116.9 282.5 116.2 283.1 115.8 289.2 115.4 289.2 115.0 293.1 114.7 294.0 113.9 296.3 113.9 296.3 113.6 311.4 113.6 311.4 112.8 315.9 112.8 316.8 112.4 317.1 111.7 322.3 111.7 323.6 110.9 326.5 110.9 326.5 110.6 333.2 110.6 334.5 109.8 338.0 109.8 338.0 109.1 340.9 108.7 340.9 108.3 374.0 107.9 374.0 107.6 380.4 107.6 380.4 107.2 390.7 107.2 390.7 106.8 395.8 106.8 395.8 106.5 432.4 106.5 432.4 106.1 438.5 106.1 438.5 105.7 454.9 105.7 454.9 105.3 485.4 105.0 485.4 104.6 552.8 104.6 552.8 104.2 829.7 103.8 829.7 103.5 869.5 103.5 869.5 103.1 1128.0 103.1 1128.0 102.7 1165.2 102.7 1165.2 102.3 1173.9 102.3 1173.9 102.0 1489.2 101.6" stroke="#17becf"/>
<path d="M204.8 848.5 205.1 456.0 205.7 434.7 206.4 344.3 207.0 335.8 207.3 308.9 208.3 300.3 208.3 286.8 208.9 284.2 209.9 252.8 210.9 248.0 211.8 232.3 212.5 229.7 212.5 225.6 213.1 224.5 213.4 218.1 214.1 216.2 215.7 197.2 216.3 196.1 216.3 192.7 217.0 191.2 217.0 187.1 217.6 183.8 218.2 183.8 218.6 180.4 219.2 180.0 219.2 177.8 221.1 173.3 221.4 169.6 222.1 169.6 222.4 167.7 223.4 166.6 223.7 164.3 226.3 160.2 226.3 158.4 226.9 156.9 227.9 156.5 228.5 155.4 229.5 155.4 229.8 153.9 230.4 153.9 230.4 152.0 232.4 149.0 232.4 147.2 233.7 146.8 234.0 145.7 235.6 144.9 235.6 144.2 236.2 144.2 236.2 143.4 238.5 143.1 239.4 141.9 240.1 141.9 240.7 139.3 241.4 138.6 242.3 138.6 242.3 137.8 243.6 137.8 244.9 135.2 251.0 133.7 252.3 131.1 253.6 131.1 253.9 130.4 255.2 130.4 255.2 130.0 256.8 130.0 256.8 129.2 258.7 129.2 260.0 127.0 261.9 127.0 262.9 125.5 264.5 124.8 266.7 124.8 267.0 124.0 270.6 124.0 270.9 123.3 275.4 123.3 276.4 122.5 280.5 122.1 280.5 121.4 281.5 121.4 281.8 120.6 284.4 119.5 284.4 118.8 286.3 117.7 286.6 116.5 295.9 115.8 296.6 115.0 299.8 115.0 299.8 114.7 305.6 114.7 306.5 113.9 311.0 113.9 312.6 112.8 324.5 112.8 324.5 112.4 326.8 112.4 326.8 111.7 327.7 111.3 339.3 110.9 339.3 110.6 341.9 110.6 341.9 110.2 346.0 109.8 346.0 109.4 350.2 109.4 350.2 109.1 359.5 109.1 359.5 108.7 364.0 108.3 366.6 107.2 373.3 107.2 373.3 106.8 375.9 106.8 375.9 106.5 440.1 106.1 440.1 105.7 467.1 105.3 467.1 105.0 474.2 105.0 474.2 104.6 477.1 104.6 477.1 104.2 491.2 104.2 491.2 103.8 601.0 103.5 601.0 103.1 805.6 103.1 805.6 102.7 829.0 102.7 829.0 102.3 1010.1 102.3 1010.1 102.0 1489.2 101.6" stroke="#bfe31a"/>
<path d="M204.8 848.5 204.8 440.3 205.4 408.9 205.7 304.4 207.6 243.5 208.3 239.8 208.6 227.1 209.6 220.4 210.2 208.0 210.9 207.7 210.9 202.1 211.5 200.9 211.5 196.1 212.1 195.3 213.4 179.7 215.3 170.7 216.3 169.9 216.3 168.1 217.0 168.1 217.3 166.2 218.9 164.0 219.2 161.7 219.8 161.4 220.5 158.7 221.1 158.7 221.8 156.5 222.4 156.5 223.1 155.0 223.1 153.9 224.0 153.5 224.3 152.0 225.0 151.6 225.0 149.8 226.3 149.0 226.6 146.4 227.5 145.3 228.8 141.2 229.8 140.4 229.8 138.9 231.1 138.6 231.7 137.1 232.7 137.1 232.7 136.3 234.3 134.8 234.3 134.1 234.9 134.1 234.9 133.3 235.9 133.3 236.2 131.8 238.5 131.8 238.8 130.7 239.4 130.7 239.4 129.6 241.0 129.6 241.7 128.5 243.3 128.1 244.2 126.6 246.2 126.6 246.5 125.5 248.1 125.1 248.7 124.4 252.9 123.6 252.9 122.9 254.5 122.5 254.5 121.4 257.4 121.4 257.7 120.6 258.7 120.3 264.5 120.3 265.4 118.8 269.0 118.8 271.9 117.7 273.8 117.7 275.1 116.9 276.4 116.9 277.3 115.8 278.9 115.8 280.2 115.0 288.6 114.7 288.6 114.3 291.1 114.3 291.8 113.6 299.2 113.6 300.4 112.8 304.9 112.8 305.6 112.1 313.3 111.3 314.9 110.6 322.3 110.6 322.3 110.2 329.7 110.2 329.7 109.8 344.1 109.8 344.1 109.4 351.5 109.1 351.5 108.7 367.6 108.3 367.6 107.9 371.1 107.9 371.1 107.6 425.4 107.2 425.4 106.8 439.5 106.8 439.5 106.5 449.1 106.5 449.1 106.1 479.3 105.7 479.3 105.3 593.3 105.0 593.3 104.6 610.3 104.6 610.3 104.2 718.6 103.8 718.6 103.5 731.7 103.5 731.7 103.1 1150.1 102.7 1150.1 102.3 1187.4 102.3 1187.4 102.0 1489.2 101.6" stroke="#9edae5"/>
<path d="M204.8 848.5 204.8 474.7 205.4 360.0 206.0 350.3 207.0 277.1 207.3 268.9 208.0 268.5 208.3 248.7 208.9 245.4 209.2 233.1 209.9 232.3 209.9 225.6 210.5 222.2 210.5 218.1 211.2 217.7 211.5 206.9 212.5 203.2 212.8 196.5 213.4 195.3 213.4 193.5 214.1 193.1 214.4 188.2 216.0 183.0 217.0 175.5 217.9 173.3 217.9 170.3 219.2 169.2 219.5 165.8 222.1 162.8 222.1 160.2 223.1 159.9 223.1 158.7 223.7 158.7 223.7 156.9 225.0 156.1 225.0 155.0 226.6 152.8 228.2 152.8 228.8 152.0 229.5 149.4 232.0 149.0 232.4 148.3 233.0 148.3 233.0 147.2 234.0 146.8 234.0 145.7 234.9 144.9 234.9 144.2 236.2 144.2 237.2 143.4 237.2 142.7 238.1 142.7 238.1 141.9 239.4 141.6 239.8 140.1 241.0 139.3 241.0 138.2 243.0 138.2 243.6 136.7 244.6 136.7 244.6 136.0 247.1 135.6 247.5 134.5 248.1 134.5 248.7 133.3 250.3 133.3 253.2 132.2 253.9 131.5 253.9 130.4 255.5 130.4 255.8 129.6 257.1 129.6 257.1 129.2 262.6 128.9 264.2 128.1 264.5 127.4 270.9 126.2 271.9 125.5 273.1 125.5 273.5 124.8 274.4 124.4 280.2 124.4 280.5 123.6 281.2 123.6 281.2 122.9 282.5 122.9 282.5 122.5 294.7 121.8 295.0 120.6 302.4 120.3 302.4 119.9 304.3 119.9 304.6 119.2 308.5 118.8 308.5 118.4 323.9 118.0 324.9 117.7 325.2 116.9 328.4 116.9 328.4 116.5 331.3 116.5 331.3 116.2 336.7 116.2 336.7 115.8 339.0 115.8 339.0 115.4 348.0 115.4 348.0 115.0 349.9 115.0 350.2 114.3 352.1 114.3 352.1 113.9 359.9 113.9 359.9 113.6 363.4 113.2 363.4 112.8 371.1 112.8 371.1 112.1 376.6 112.1 376.6 111.7 380.1 111.7 380.1 111.3 400.6 110.6 400.6 109.8 432.4 109.8 432.4 109.4 434.7 109.4 434.7 109.1 524.6 109.1 524.6 108.7 547.4 108.3 547.4 107.9 711.5 107.2 711.5 106.8 744.2 106.8 744.2 106.5 829.3 106.5 829.3 106.1 931.8 105.7 931.8 105.3 1004.0 105.3 1004.0 105.0 1023.9 105.0 1023.9 104.6 1101.7 104.6 1101.7 104.2 1146.9 104.2 1146.9 103.8 1182.9 103.8 1182.9 103.5 1261.9 103.5 1261.9 103.1 1320.0 103.1 1320.0 102.7 1344.1 102.7 1344.1 102.3 1432.4 102.3 1432.4 102.0 1489.2 101.6" stroke="#e6b01e"/>
<path d="M204.8 848.5 205.1 399.2 207.0 275.3 208.0 251.0 208.9 242.8 209.2 225.2 209.9 224.5 210.2 215.9 210.5 213.6 211.2 212.9 212.5 196.8 213.1 196.1 213.7 184.9 214.4 183.4 214.4 181.5 215.3 180.4 216.0 174.8 216.6 173.7 216.6 169.9 217.3 169.6 217.6 166.6 218.2 165.8 218.2 162.8 219.5 162.1 219.5 159.5 220.2 159.5 220.2 156.9 220.8 156.9 220.8 155.8 221.8 155.4 221.8 154.3 222.7 153.5 223.1 151.6 224.3 151.3 224.3 150.5 225.0 150.1 225.0 147.5 226.3 147.2 226.9 145.3 227.9 144.9 228.2 143.1 228.8 143.1 229.8 141.9 230.8 141.9 230.8 140.8 231.7 140.8 231.7 139.7 232.4 139.7 232.7 138.6 234.6 137.5 234.6 136.3 235.6 135.6 236.5 133.0 238.8 132.6 238.8 131.1 240.1 130.7 240.1 129.6 240.7 128.9 242.0 128.9 242.3 128.1 245.5 127.7 246.2 125.9 248.1 125.9 248.7 124.8 249.7 124.8 250.0 123.3 251.3 122.9 251.6 122.1 252.9 122.1 253.2 121.4 259.3 120.6 260.6 119.9 267.4 119.9 268.0 119.2 269.0 119.2 269.3 118.4 272.2 118.4 273.1 117.7 275.4 117.7 276.0 116.9 277.3 116.9 277.6 116.2 278.3 116.2 278.3 115.4 287.3 115.4 287.3 115.0 289.8 115.0 290.5 113.9 299.8 113.9 300.4 113.2 319.1 112.8 319.1 112.4 321.6 112.4 321.6 112.1 327.7 112.1 327.7 111.7 332.2 111.7 332.2 111.3 341.9 111.3 341.9 110.9 343.8 110.9 344.1 110.2 360.8 109.4 360.8 109.1 366.3 109.1 366.3 108.7 371.7 108.7 371.7 108.3 412.8 107.6 412.8 107.2 417.0 107.2 417.0 106.8 432.1 106.8 432.1 106.5 443.7 106.5 443.7 106.1 486.7 106.1 486.7 105.7 496.0 105.7 496.0 105.3 588.2 105.3 588.2 105.0 631.2 104.6 631.2 104.2 735.9 104.2 735.9 103.8 770.3 103.8 770.3 103.5 970.0 103.5 970.0 103.1 976.4 103.1 976.4 102.7 1015.3 102.7 1015.3 102.3 1489.2 101.6" stroke="#9edae5"/>
<path d="M204.8 848.5 204.8 641.2 205.7 409.3 206.0 385.4 206.7 378.7 206.7 355.9 207.6 343.6 208.0 316.7 208.6 310.0 208.9 289.1 209.6 289.1 209.9 273.4 210.5 271.9 211.5 251.4 212.1 250.6 212.1 247.2 212.8 246.9 213.1 238.3 213.7 237.5 213.7 236.0 214.4 235.7 214.4 232.7 215.0 231.9 216.0 222.2 216.6 221.9 216.6 219.6 217.3 218.9 217.3 217.0 217.9 215.9 217.9 212.9 218.9 212.5 219.2 208.8 219.8 208.0 219.8 206.5 220.5 206.2 221.1 199.1 221.8 199.1 223.7 190.5 224.3 190.5 224.3 189.0 225.0 188.6 225.6 184.9 226.3 184.1 226.3 182.3 226.9 182.3 227.5 179.7 228.5 179.3 228.8 175.9 229.5 175.9 229.8 174.8 230.4 174.8 230.4 172.9 230.8 172.2 231.4 172.2 231.7 169.9 232.7 169.6 233.3 166.2 235.3 163.2 235.6 161.0 236.5 160.2 236.9 158.7 237.8 158.7 237.8 157.6 239.1 157.2 239.1 155.8 240.7 155.4 240.7 154.6 242.0 153.9 242.3 152.8 243.6 152.8 244.2 151.3 245.2 151.3 245.2 150.5 246.5 149.8 246.8 148.7 247.5 148.7 247.8 146.4 249.4 145.7 249.4 144.5 250.3 144.2 252.0 140.8 252.6 140.8 252.9 139.7 253.6 139.7 254.5 137.8 260.0 136.3 260.6 134.8 261.3 134.8 261.3 134.1 263.8 134.1 264.8 132.6 268.3 132.6 268.7 131.5 271.2 130.7 272.2 128.9 276.4 128.5 276.7 127.7 278.0 127.7 278.0 127.4 281.5 127.4 281.5 126.6 282.5 126.2 285.7 126.2 287.9 124.0 290.5 124.0 291.5 123.6 291.8 122.9 293.1 122.9 294.0 121.8 296.9 121.8 298.2 121.0 300.1 121.0 300.8 120.3 304.6 120.3 305.6 119.9 305.9 119.2 307.8 119.2 307.8 118.8 313.6 118.8 315.2 118.0 317.8 118.0 318.7 117.3 322.9 117.3 325.5 115.4 329.0 115.4 331.0 114.7 338.0 114.7 339.0 113.9 354.7 113.9 354.7 113.6 359.5 113.6 359.5 113.2 362.7 112.8 363.7 112.1 379.4 112.1 381.4 111.3 395.5 111.3 395.5 110.9 398.1 110.9 398.1 110.6 471.9 109.8 471.9 109.4 475.5 109.4 475.5 108.7 477.4 108.7 477.4 108.3 488.6 108.3 488.6 107.9 490.9 107.9 490.9 107.6 594.0 106.8 594.0 106.5 609.0 106.5 609.0 105.7 707.0 105.3 707.0 105.0 786.6 105.0 786.6 104.6 864.7 104.6 864.7 104.2 1006.9 104.2 1006.9 103.8 1057.0 103.8 1057.0 103.5 1150.5 103.5 1150.5 103.1 1168.1 103.1 1168.1 102.7 1308.1 102.7 1308.1 102.3 1353.1 102.3 1353.1 102.0 1489.2 101.6" stroke="#1a6ee6"/>
<path d="M204.8 848.5 204.8 493.0 205.4 361.9 206.0 338.0 206.0 307.0 206.7 300.6 207.0 275.3 209.6 224.8 210.5 220.7 210.9 212.1 211.2 208.8 211.8 208.4 212.1 201.3 212.8 201.3 213.7 193.1 214.7 191.6 214.7 189.4 215.3 188.6 215.3 186.4 216.6 182.3 216.6 179.7 217.3 179.7 217.6 178.5 217.9 174.0 218.6 173.7 218.6 172.9 219.2 172.9 219.5 169.6 220.5 168.1 220.5 165.8 221.1 165.8 221.1 164.3 221.8 164.3 221.8 163.2 222.4 162.8 223.4 159.5 224.0 159.5 224.3 157.6 226.3 156.9 226.3 155.8 227.2 155.0 227.5 151.6 228.2 151.3 228.5 149.8 229.8 149.4 230.1 147.9 231.7 146.4 234.9 145.3 234.9 144.5 235.9 144.2 236.2 141.9 237.5 141.9 237.8 141.2 238.8 141.2 238.8 140.4 240.1 140.4 240.7 139.7 240.7 138.6 242.6 138.2 243.3 137.5 243.3 136.3 244.2 136.3 244.9 135.2 246.8 135.2 246.8 134.5 248.4 134.1 248.7 133.0 251.3 133.0 251.3 132.2 252.6 131.5 252.9 130.4 254.8 130.0 255.5 128.5 256.8 128.5 257.1 127.4 258.1 127.4 259.7 125.5 262.2 125.5 263.8 124.8 264.2 124.0 265.8 124.0 266.7 123.3 270.3 123.3 272.2 122.5 277.0 122.1 279.3 119.2 280.5 119.2 280.9 118.4 282.5 118.4 282.8 117.3 285.4 116.2 295.6 115.8 296.3 115.0 304.6 114.7 304.6 114.3 307.2 114.3 309.1 113.2 317.1 112.8 317.1 112.4 318.4 112.4 318.7 111.7 322.0 111.7 322.9 110.9 325.2 110.9 325.2 110.6 341.2 110.2 343.8 109.1 346.0 109.1 346.0 108.7 357.3 108.3 357.3 107.9 359.5 107.9 359.5 107.6 374.0 107.6 374.0 107.2 376.6 107.2 376.6 106.8 385.5 106.8 385.9 106.1 408.3 106.1 408.3 105.7 423.8 105.7 423.8 105.3 542.9 105.0 543.9 104.2 609.7 104.2 609.7 103.8 636.3 103.8 636.3 103.5 690.3 103.5 690.3 103.1 937.9 103.1 937.9 102.7 1019.4 102.7 1019.4 102.3 1489.2 101.6" stroke="#9edae5"/>
<path d="M204.8 848.5 204.8 585.2 205.7 415.7 206.0 391.0 206.7 387.3 207.0 344.3 208.0 330.2 208.6 298.8 209.6 289.8 210.2 267.4 211.5 259.2 211.8 247.2 213.4 235.3 213.4 231.9 214.1 226.7 215.0 224.5 215.0 221.1 215.7 220.4 216.0 211.8 216.3 208.4 217.3 205.4 217.3 201.7 217.9 199.4 218.6 199.1 219.5 189.0 220.8 186.0 221.1 183.0 221.8 183.0 221.8 181.1 223.1 178.5 223.1 177.0 223.7 176.7 223.7 174.8 224.3 174.8 224.3 171.8 225.0 171.1 225.0 169.6 225.9 169.6 225.9 167.7 227.2 166.2 227.2 165.1 227.9 165.1 228.2 162.8 228.8 162.8 228.8 162.1 229.5 161.7 229.5 159.9 229.8 158.7 230.4 158.7 230.4 156.9 231.1 156.1 232.7 156.1 233.0 154.3 234.0 153.9 234.0 152.8 234.6 152.8 234.6 150.9 235.9 150.1 236.2 147.5 237.8 147.5 238.1 146.0 240.1 144.9 240.1 144.2 242.0 144.2 242.3 143.1 243.3 143.1 243.3 141.9 244.6 141.9 245.5 140.8 246.2 140.8 246.5 139.7 247.5 139.7 247.5 138.9 248.7 138.9 249.4 136.7 251.0 136.3 252.9 134.8 254.2 134.8 255.2 133.7 256.5 133.7 256.5 133.0 257.4 132.6 257.4 131.5 259.7 130.7 259.7 129.6 261.6 128.9 264.5 128.9 265.1 128.1 266.4 128.1 267.4 127.4 269.6 127.4 270.6 126.2 271.5 126.2 271.5 125.5 272.8 125.5 273.5 124.4 274.4 124.4 274.8 123.3 284.7 122.1 285.0 121.0 286.6 121.0 287.6 119.9 290.8 119.9 291.1 119.2 297.6 118.8 298.2 117.3 301.1 117.3 301.1 116.5 304.3 116.5 304.9 115.8 306.5 115.8 306.5 115.4 316.5 115.0 316.5 114.7 319.1 114.7 319.1 114.3 322.9 114.3 324.9 113.6 330.6 113.6 332.2 112.4 335.1 112.4 339.0 110.9 342.2 110.9 342.2 110.6 351.2 110.6 351.8 109.8 358.6 109.4 358.6 109.1 380.4 109.1 381.4 108.7 381.7 107.9 385.2 107.9 385.2 107.6 397.4 107.6 397.4 106.8 399.0 106.8 399.0 106.5 412.8 106.1 412.8 105.7 519.1 105.0 519.1 104.6 522.0 104.6 522.0 104.2 552.5 104.2 552.5 103.8 698.3 103.8 698.3 103.5 771.5 103.5 771.5 103.1 858.2 103.1 858.2 102.7 1283.4 102.3 1283.4 102.0 1346.3 102.0 1346.3 101.6 1489.2 101.6" stroke="#e38cc8"/></g>
<rect x="948.9" y="488.3" width="589.1" height="381.2" rx="5" fill="#ffffff" stroke="#efefef" stroke-width="2.2"/>
<path d="M959.3 511.8H1023.4" stroke="#1f77b4" stroke-width="3.8"/>
<text x="1046" y="522.3" textLength="51.12" lengthAdjust="spacingAndGlyphs" font-family="'JetBrains Mono','DejaVu Sans Mono',monospace" font-weight="600" font-size="30.2" fill="#222">L-1</text>
<path d="M959.3 553.3H1023.4" stroke="#aec7e8" stroke-width="3.8"/>
<text x="1046" y="563.8" textLength="51.12" lengthAdjust="spacingAndGlyphs" font-family="'JetBrains Mono','DejaVu Sans Mono',monospace" font-weight="600" font-size="30.2" fill="#222">L-2</text>
<path d="M959.3 594.8H1023.4" stroke="#ff7f0e" stroke-width="3.8"/>
<text x="1046" y="605.3" textLength="51.12" lengthAdjust="spacingAndGlyphs" font-family="'JetBrains Mono','DejaVu Sans Mono',monospace" font-weight="600" font-size="30.2" fill="#222">L-3</text>
<path d="M959.3 636.3H1023.4" stroke="#ffbb78" stroke-width="3.8"/>
<text x="1046" y="646.8" textLength="51.12" lengthAdjust="spacingAndGlyphs" font-family="'JetBrains Mono','DejaVu Sans Mono',monospace" font-weight="600" font-size="30.2" fill="#222">L-4</text>
<path d="M959.3 677.8H1023.4" stroke="#2ca02c" stroke-width="3.8"/>
<text x="1046" y="688.3" textLength="51.12" lengthAdjust="spacingAndGlyphs" font-family="'JetBrains Mono','DejaVu Sans Mono',monospace" font-weight="600" font-size="30.2" fill="#222">L-5</text>
<path d="M959.3 719.3H1023.4" stroke="#98df8a" stroke-width="3.8"/>
<text x="1046" y="729.8" textLength="51.12" lengthAdjust="spacingAndGlyphs" font-family="'JetBrains Mono','DejaVu Sans Mono',monospace" font-weight="600" font-size="30.2" fill="#222">L-6</text>
<path d="M959.3 760.8H1023.4" stroke="#d62728" stroke-width="3.8"/>
<text x="1046" y="771.3" textLength="51.12" lengthAdjust="spacingAndGlyphs" font-family="'JetBrains Mono','DejaVu Sans Mono',monospace" font-weight="600" font-size="30.2" fill="#222">L-7</text>
<path d="M959.3 802.3H1023.4" stroke="#ff9896" stroke-width="3.8"/>
<text x="1046" y="812.8" textLength="51.12" lengthAdjust="spacingAndGlyphs" font-family="'JetBrains Mono','DejaVu Sans Mono',monospace" font-weight="600" font-size="30.2" fill="#222">L-8</text>
<path d="M959.3 843.8H1023.4" stroke="#9467bd" stroke-width="3.8"/>
<text x="1046" y="854.3" textLength="51.12" lengthAdjust="spacingAndGlyphs" font-family="'JetBrains Mono','DejaVu Sans Mono',monospace" font-weight="600" font-size="30.2" fill="#222">L-9</text>
<path d="M1156 511.8H1220" stroke="#c5b0d5" stroke-width="3.8"/>
<text x="1242.5" y="522.3" textLength="68.16" lengthAdjust="spacingAndGlyphs" font-family="'JetBrains Mono','DejaVu Sans Mono',monospace" font-weight="600" font-size="30.2" fill="#222">L-10</text>
<path d="M1156 553.3H1220" stroke="#8c564b" stroke-width="3.8"/>
<text x="1242.5" y="563.8" textLength="68.16" lengthAdjust="spacingAndGlyphs" font-family="'JetBrains Mono','DejaVu Sans Mono',monospace" font-weight="600" font-size="30.2" fill="#222">L-11</text>
<path d="M1156 594.8H1220" stroke="#c49c94" stroke-width="3.8"/>
<text x="1242.5" y="605.3" textLength="68.16" lengthAdjust="spacingAndGlyphs" font-family="'JetBrains Mono','DejaVu Sans Mono',monospace" font-weight="600" font-size="30.2" fill="#222">L-12</text>
<path d="M1156 636.3H1220" stroke="#e377c2" stroke-width="3.8"/>
<text x="1242.5" y="646.8" textLength="68.16" lengthAdjust="spacingAndGlyphs" font-family="'JetBrains Mono','DejaVu Sans Mono',monospace" font-weight="600" font-size="30.2" fill="#222">L-13</text>
<path d="M1156 677.8H1220" stroke="#f7b6d2" stroke-width="3.8"/>
<text x="1242.5" y="688.3" textLength="68.16" lengthAdjust="spacingAndGlyphs" font-family="'JetBrains Mono','DejaVu Sans Mono',monospace" font-weight="600" font-size="30.2" fill="#222">L-14</text>
<path d="M1156 719.3H1220" stroke="#7f7f7f" stroke-width="3.8"/>
<text x="1242.5" y="729.8" textLength="68.16" lengthAdjust="spacingAndGlyphs" font-family="'JetBrains Mono','DejaVu Sans Mono',monospace" font-weight="600" font-size="30.2" fill="#222">L-15</text>
<path d="M1156 760.8H1220" stroke="#c7c7c7" stroke-width="3.8"/>
<text x="1242.5" y="771.3" textLength="68.16" lengthAdjust="spacingAndGlyphs" font-family="'JetBrains Mono','DejaVu Sans Mono',monospace" font-weight="600" font-size="30.2" fill="#222">L-16</text>
<path d="M1156 802.3H1220" stroke="#bcbd22" stroke-width="3.8"/>
<text x="1242.5" y="812.8" textLength="68.16" lengthAdjust="spacingAndGlyphs" font-family="'JetBrains Mono','DejaVu Sans Mono',monospace" font-weight="600" font-size="30.2" fill="#222">L-17</text>
<path d="M1156 843.8H1220" stroke="#dbdb8d" stroke-width="3.8"/>
<text x="1242.5" y="854.3" textLength="68.16" lengthAdjust="spacingAndGlyphs" font-family="'JetBrains Mono','DejaVu Sans Mono',monospace" font-weight="600" font-size="30.2" fill="#222">L-18</text>
<path d="M1370 511.8H1434" stroke="#17becf" stroke-width="3.8"/>
<text x="1456.5" y="522.3" textLength="68.16" lengthAdjust="spacingAndGlyphs" font-family="'JetBrains Mono','DejaVu Sans Mono',monospace" font-weight="600" font-size="30.2" fill="#222">L-19</text>
<path d="M1370 553.3H1434" stroke="#bfe31a" stroke-width="3.8"/>
<text x="1456.5" y="563.8" textLength="68.16" lengthAdjust="spacingAndGlyphs" font-family="'JetBrains Mono','DejaVu Sans Mono',monospace" font-weight="600" font-size="30.2" fill="#222">L-20</text>
<path d="M1370 594.8H1434" stroke="#9edae5" stroke-width="3.8"/>
<text x="1456.5" y="605.3" textLength="68.16" lengthAdjust="spacingAndGlyphs" font-family="'JetBrains Mono','DejaVu Sans Mono',monospace" font-weight="600" font-size="30.2" fill="#222">L-21</text>
<path d="M1370 636.3H1434" stroke="#e6b01e" stroke-width="3.8"/>
<text x="1456.5" y="646.8" textLength="68.16" lengthAdjust="spacingAndGlyphs" font-family="'JetBrains Mono','DejaVu Sans Mono',monospace" font-weight="600" font-size="30.2" fill="#222">L-22</text>
<path d="M1370 677.8H1434" stroke="#9edae5" stroke-width="3.8"/>
<text x="1456.5" y="688.3" textLength="68.16" lengthAdjust="spacingAndGlyphs" font-family="'JetBrains Mono','DejaVu Sans Mono',monospace" font-weight="600" font-size="30.2" fill="#222">L-23</text>
<path d="M1370 719.3H1434" stroke="#1a6ee6" stroke-width="3.8"/>
<text x="1456.5" y="729.8" textLength="68.16" lengthAdjust="spacingAndGlyphs" font-family="'JetBrains Mono','DejaVu Sans Mono',monospace" font-weight="600" font-size="30.2" fill="#222">L-24</text>
<path d="M1370 760.8H1434" stroke="#9edae5" stroke-width="3.8"/>
<text x="1456.5" y="771.3" textLength="68.16" lengthAdjust="spacingAndGlyphs" font-family="'JetBrains Mono','DejaVu Sans Mono',monospace" font-weight="600" font-size="30.2" fill="#222">L-25</text>
<path d="M1370 802.3H1434" stroke="#e38cc8" stroke-width="3.8"/>
<text x="1456.5" y="812.8" textLength="68.16" lengthAdjust="spacingAndGlyphs" font-family="'JetBrains Mono','DejaVu Sans Mono',monospace" font-weight="600" font-size="30.2" fill="#222">L-26</text>
<path d="M140.6 886.2V64.6H1553.5V886.2Z" fill="none" stroke="#111" stroke-width="2" stroke-linejoin="miter"/>
<path d="M204.75 886.2v12.8M461.60 886.2v12.8M718.00 886.2v12.8M974.50 886.2v12.8M1232.70 886.2v12.8M1489.25 886.2v12.8M140.6 848.50h-13.2M140.6 700.20h-13.2M140.6 550.40h-13.2M140.6 401.00h-13.2M140.6 251.80h-13.2M140.6 101.60h-13.2" stroke="#111" stroke-width="2" fill="none"/>
<path d="M268.96 886.2v4.6M333.18 886.2v4.6M397.39 886.2v4.6M525.70 886.2v4.6M589.80 886.2v4.6M653.90 886.2v4.6M782.12 886.2v4.6M846.25 886.2v4.6M910.38 886.2v4.6M1039.05 886.2v4.6M1103.60 886.2v4.6M1168.15 886.2v4.6M1296.84 886.2v4.6M1360.97 886.2v4.6M1425.11 886.2v4.6M140.6 811.42h-4.6M140.6 774.35h-4.6M140.6 737.27h-4.6M140.6 662.75h-4.6M140.6 625.30h-4.6M140.6 587.85h-4.6M140.6 513.05h-4.6M140.6 475.70h-4.6M140.6 438.35h-4.6M140.6 363.70h-4.6M140.6 326.40h-4.6M140.6 289.10h-4.6M140.6 214.25h-4.6M140.6 176.70h-4.6M140.6 139.15h-4.6" stroke="#111" stroke-width="1.3" fill="none"/>
<text x="204.75" y="930.5" text-anchor="middle" textLength="51.7" lengthAdjust="spacingAndGlyphs" font-family="'JetBrains Mono','DejaVu Sans Mono',monospace" font-size="28.15" fill="#262626">0.0</text>
<text x="117.5" y="859.30" text-anchor="end" textLength="52.6" lengthAdjust="spacingAndGlyphs" font-family="'JetBrains Mono','DejaVu Sans Mono',monospace" font-size="28.15" fill="#262626">0.0</text>
<text x="461.60" y="930.5" text-anchor="middle" textLength="51.7" lengthAdjust="spacingAndGlyphs" font-family="'JetBrains Mono','DejaVu Sans Mono',monospace" font-size="28.15" fill="#262626">0.2</text>
<text x="117.5" y="711.00" text-anchor="end" textLength="52.6" lengthAdjust="spacingAndGlyphs" font-family="'JetBrains Mono','DejaVu Sans Mono',monospace" font-size="28.15" fill="#262626">0.2</text>
<text x="718.00" y="930.5" text-anchor="middle" textLength="51.7" lengthAdjust="spacingAndGlyphs" font-family="'JetBrains Mono','DejaVu Sans Mono',monospace" font-size="28.15" fill="#262626">0.4</text>
<text x="117.5" y="561.20" text-anchor="end" textLength="52.6" lengthAdjust="spacingAndGlyphs" font-family="'JetBrains Mono','DejaVu Sans Mono',monospace" font-size="28.15" fill="#262626">0.4</text>
<text x="974.50" y="930.5" text-anchor="middle" textLength="51.7" lengthAdjust="spacingAndGlyphs" font-family="'JetBrains Mono','DejaVu Sans Mono',monospace" font-size="28.15" fill="#262626">0.6</text>
<text x="117.5" y="411.80" text-anchor="end" textLength="52.6" lengthAdjust="spacingAndGlyphs" font-family="'JetBrains Mono','DejaVu Sans Mono',monospace" font-size="28.15" fill="#262626">0.6</text>
<text x="1232.70" y="930.5" text-anchor="middle" textLength="51.7" lengthAdjust="spacingAndGlyphs" font-family="'JetBrains Mono','DejaVu Sans Mono',monospace" font-size="28.15" fill="#262626">0.8</text>
<text x="117.5" y="262.60" text-anchor="end" textLength="52.6" lengthAdjust="spacingAndGlyphs" font-family="'JetBrains Mono','DejaVu Sans Mono',monospace" font-size="28.15" fill="#262626">0.8</text>
<text x="1489.25" y="930.5" text-anchor="middle" textLength="51.7" lengthAdjust="spacingAndGlyphs" font-family="'JetBrains Mono','DejaVu Sans Mono',monospace" font-size="28.15" fill="#262626">1.0</text>
<text x="117.5" y="112.40" text-anchor="end" textLength="52.6" lengthAdjust="spacingAndGlyphs" font-family="'JetBrains Mono','DejaVu Sans Mono',monospace" font-size="28.15" fill="#262626">1.0</text>
<text x="845.95" y="990.1" text-anchor="middle" textLength="338.8" lengthAdjust="spacingAndGlyphs" font-family="'JetBrains Mono','DejaVu Sans Mono',monospace" font-size="28.15" fill="#262626">False Positive Rate</text>
<text transform="translate(23.8 477.65) rotate(-90)" text-anchor="middle" textLength="319.9" lengthAdjust="spacingAndGlyphs" font-family="'JetBrains Mono','DejaVu Sans Mono',monospace" font-size="28.15" fill="#262626">True Positive Rate</text>
<text x="736.3" y="30.8" textLength="218.4" lengthAdjust="spacingAndGlyphs" font-family="'Liberation Sans',Arial,sans-serif" font-weight="bold" font-size="43" fill="#2b2b2b">ROC-Curve</text>
</g></svg>
</body></html>
